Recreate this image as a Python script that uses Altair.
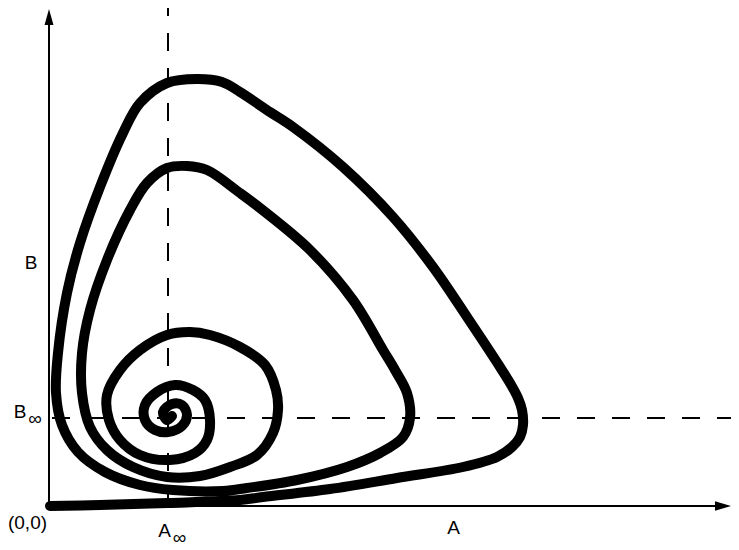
import altair as alt
import pandas as pd

# Trajectory of the system in (A, B) phase plane (arbitrary units)
A_vals = [0.1, 5.1, 11.9, 19.1, 21.4, 28.1, 34.8, 41.4, 44.8, 46.3, 47.1, 47.4, 47.3, 46.9, 46.1, 45.1,
          41.8, 38.4, 34.4, 29.4, 24.4, 22.1, 19.1, 17.3, 14.8, 11.8, 9.1, 7.4, 5.1, 3.1, 1.8, 0.9, 0.7, 1.3,
          2.9, 5.6, 9.1, 12.4, 17.4, 19.8, 24.8, 29.8, 33.1, 35.4, 36.1, 35.8, 34.6, 33.4, 30.4, 26.1,
          21.1, 19.1, 15.8, 13.8, 11.8, 9.8, 8.1, 5.8, 4.1, 3.3, 3.3, 4.1, 5.8, 8.4, 11.8, 15.1, 18.1,
          20.8, 22.4, 22.9, 22.7, 21.6, 19.1, 16.1, 14.1, 11.8, 9.1, 7.1, 5.8, 6.0, 7.1, 9.1, 12.1,
          14.6, 15.8, 16.1, 15.6, 14.4, 12.6, 10.8, 9.6, 9.6, 10.6, 11.9, 13.3, 13.8, 13.3, 12.3, 11.4,
          11.8, 12.3]
B_vals = [0.0, 0.1, 0.3, 0.6, 0.9, 1.7, 2.8, 3.9, 4.9, 5.9, 6.9, 8.1, 9.6, 10.8, 12.3, 13.9,
          18.9, 23.9, 28.9, 33.9, 37.9, 39.4, 41.4, 42.4, 42.7, 42.3, 40.3, 37.3, 31.9, 26.3, 21.3, 15.3, 11.3, 8.1,
          5.4, 3.4, 2.1, 1.6, 1.5, 1.8, 2.6, 3.9, 5.3, 6.9, 8.8, 11.3, 13.6, 15.6, 20.6, 25.6,
          29.8, 31.3, 33.6, 34.0, 33.8, 32.3, 29.6, 24.6, 19.6, 15.3, 11.3, 7.9, 5.6, 3.9, 2.9, 3.0, 3.9,
          5.1, 7.3, 9.6, 11.6, 14.1, 15.9, 17.1, 17.4, 17.1, 15.6, 13.6, 11.1, 8.6, 6.6, 5.1, 4.6,
          5.3, 6.6, 8.6, 10.6, 11.6, 12.1, 11.4, 10.1, 8.6, 7.6, 7.4, 8.0, 9.1, 10.1, 10.2, 9.4,
          8.6, 9.0]

# Equilibrium point
A_inf = 11.9
B_inf = 8.8

# Axis extents
A_axis_end = 67.4
B_axis_end = 48.5

# Labels
label_text = ["B", "B", "\u221e", "(0,0)", "A", "\u221e", "A"]
label_A = [-1.8, -2.9, -1.4, -2.15, 11.55, 13.05, 40.45]
label_B = [23.7, 8.8, 8.1, -2.3, -3.1, -3.75, -2.8]

W, H = 723, 541
xs = alt.Scale(domain=[-4.1, 68.2], nice=False, zero=False)
ys = alt.Scale(domain=[-4.3, 49.8], nice=False, zero=False)

def X(f):
    return alt.X(f, scale=xs, axis=None)

def Y(f):
    return alt.Y(f, scale=ys, axis=None)

curve_df = pd.DataFrame({"A": A_vals, "B": B_vals, "i": list(range(len(A_vals)))})
curve = alt.Chart(curve_df).mark_line(
    color="black", strokeWidth=10, strokeCap="round", strokeJoin="round",
    interpolate="catmull-rom"
).encode(x=X("A:Q"), y=Y("B:Q"), order="i:Q")

axes_df = pd.DataFrame({"x": [0.0, 0.0], "x2": [0.0, A_axis_end],
                        "y": [0.0, 0.0], "y2": [B_axis_end, 0.0]})
axes = alt.Chart(axes_df).mark_rule(color="black", strokeWidth=2).encode(
    x=X("x:Q"), x2="x2:Q", y=Y("y:Q"), y2="y2:Q")

vdash_df = pd.DataFrame({"x": [A_inf], "y": [0.0], "y2": [50.5]})
vdash = alt.Chart(vdash_df).mark_rule(
    color="black", strokeWidth=2, strokeDash=[18, 17], strokeDashOffset=0
).encode(x=X("x:Q"), y=Y("y:Q"), y2="y2:Q")

hdash_df = pd.DataFrame({"x": [0.0], "x2": [70.0], "y": [B_inf]})
hdash = alt.Chart(hdash_df).mark_rule(
    color="black", strokeWidth=2, strokeDash=[18, 17], strokeDashOffset=32
).encode(x=X("x:Q"), x2="x2:Q", y=Y("y:Q"))

up_df = pd.DataFrame({"x": [0.0], "y": [48.9]})
up_arrow = alt.Chart(up_df).mark_point(
    shape="M0,-1L0.56,1L-0.56,1Z", size=256, filled=True, color="black", opacity=1, strokeWidth=0
).encode(x=X("x:Q"), y=Y("y:Q"))

right_df = pd.DataFrame({"x": [67.4], "y": [0.0]})
right_arrow = alt.Chart(right_df).mark_point(
    shape="M1,0L-1,0.6L-1,-0.6Z", size=256, filled=True, color="black", opacity=1, strokeWidth=0
).encode(x=X("x:Q"), y=Y("y:Q"))

lab_df = pd.DataFrame({"t": label_text, "x": label_A, "y": label_B})
labels = alt.Chart(lab_df).mark_text(
    font="Liberation Sans", fontSize=19, color="black", align="center", baseline="alphabetic"
).encode(x=X("x:Q"), y=Y("y:Q"), text="t:N")

chart = alt.layer(vdash, hdash, axes, up_arrow, right_arrow, curve, labels).properties(
    width=W, height=H, autosize="none", padding=0
).configure_view(strokeWidth=0)

chart.save("out.html", embed_options={"renderer": "svg", "actions": False})
